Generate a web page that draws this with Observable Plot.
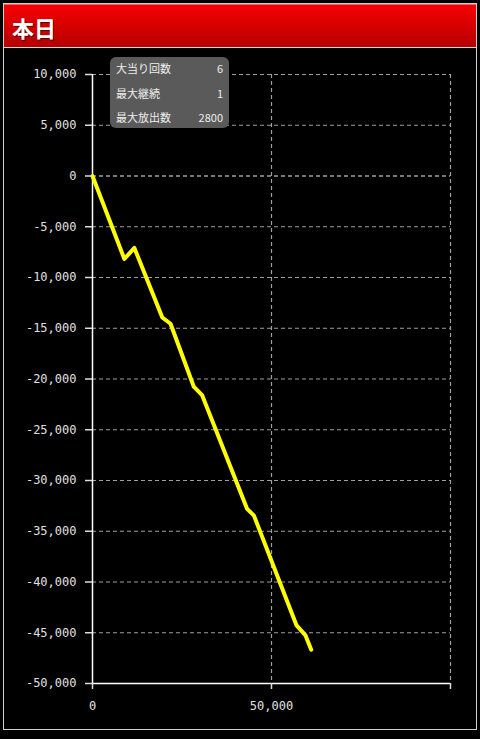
<!DOCTYPE html>
<html>
<head>
<meta charset="utf-8">
<script src="https://cdn.jsdelivr.net/npm/d3@7"></script>
<script src="https://cdn.jsdelivr.net/npm/@observablehq/plot@0.6"></script>
<style>
  html, body { margin: 0; padding: 0; background: #000; width: 480px; height: 739px; overflow: hidden; }
  #panel { position: absolute; left: 3px; top: 3px; width: 472px; height: 725px; border: 1px solid #cfcfcf; box-sizing: content-box; }
  #header { position: absolute; left: 4px; top: 4px; width: 472px; height: 42px;
    background: linear-gradient(#f70000, #b40000); border-top: 1px solid #ff6060; border-bottom: 1px solid #d8d8d8; }
  #header span { position: absolute; left: 8px; top: 6px; font-family: "Noto Sans CJK JP", sans-serif; font-weight: bold;
    font-size: 22px; color: #fff; text-shadow: 1px 1px 1px #400; }
  #chart { position: absolute; left: 0; top: 48px; }
  #chart svg text { font-family: "DejaVu Sans Mono", monospace; font-size: 12px; fill: #e0e0e0; }
  #legend { position: absolute; left: 110px; top: 57px; width: 119px; height: 71px; background: #5a5a5a; border-radius: 6px;
    font-family: "Noto Sans CJK JP", sans-serif; font-size: 11px; color: #eee; }
  #legend .row { position: absolute; left: 6px; right: 6px; height: 16px; line-height: 16px; }
  #legend .row .v { position: absolute; right: 0; top: 0; }
</style>
</head>
<body>
<div id="panel"></div>
<div id="header"><span>本日</span></div>
<div id="chart"></div>
<div id="legend"></div>
<script>
const xs = [0, 8900, 11700, 19500, 21800, 28300, 30600, 43200, 45100, 57000, 59500, 61100];
const ys = [0, -8170, -7090, -13940, -14560, -20760, -21580, -32800, -33460, -44280, -45260, -46670];
const yTicks = [10000, 5000, 0, -5000, -10000, -15000, -20000, -25000, -30000, -35000, -40000, -45000, -50000];
const xTicks = [0, 50000, 100000];
const xTickLabels = ["0", "50,000", ""];
const legendLabels = ["大当り回数", "最大継続", "最大放出数"];
const legendValues = ["6", "1", "2800"];

const data = xs.map((x, i) => ({x, y: ys[i]}));
const fmt = d => d.toLocaleString("en-US");

const chart = Plot.plot({
  width: 480,
  height: 691,
  marginLeft: 92,
  marginRight: 30,
  marginTop: 26,
  marginBottom: 56,
  style: {background: "transparent", color: "#ddd", fontFamily: "DejaVu Sans Mono", fontSize: "12px"},
  x: {domain: [0, 100000]},
  y: {domain: [-50000, 10000]},
  marks: [
    Plot.gridY(yTicks.filter(d => d !== 0 && d !== -50000), {stroke: "#a0a0a0", strokeOpacity: 1, strokeWidth: 1.2, strokeDasharray: "4,3"}),
    Plot.ruleY([0], {stroke: "#f0f0f0", strokeWidth: 1.2, strokeDasharray: "4,3"}),
    Plot.gridX([50000, 100000], {stroke: "#a0a0a0", strokeOpacity: 1, strokeWidth: 1.2, strokeDasharray: "4,3"}),
    Plot.ruleX([0], {stroke: "#fff", strokeWidth: 1.5}),
    Plot.ruleY([-50000], {stroke: "#fff", strokeWidth: 1.5}),
    Plot.axisY(yTicks, {tickSize: 7, tickPadding: 9, fontSize: 12, tickFormat: fmt, label: null, stroke: "#ddd", strokeWidth: 1.5}),
    Plot.axisX(xTicks, {tickSize: 6, tickPadding: 12, fontSize: 12, tickFormat: (d) => xTickLabels[xTicks.indexOf(d)], label: null, stroke: "#ddd", strokeWidth: 1.5}),
    Plot.line(data, {x: "x", y: "y", stroke: "#ffff00", strokeWidth: 4, strokeLinejoin: "round"})
  ]
});
document.getElementById("chart").appendChild(chart);

const legend = document.getElementById("legend");
legendLabels.forEach((l, i) => {
  const row = document.createElement("div");
  row.className = "row";
  row.style.top = (3 + i * 24.5) + "px";
  row.innerHTML = `<span>${l}</span><span class="v">${legendValues[i]}</span>`;
  legend.appendChild(row);
});
</script>
</body>
</html>
